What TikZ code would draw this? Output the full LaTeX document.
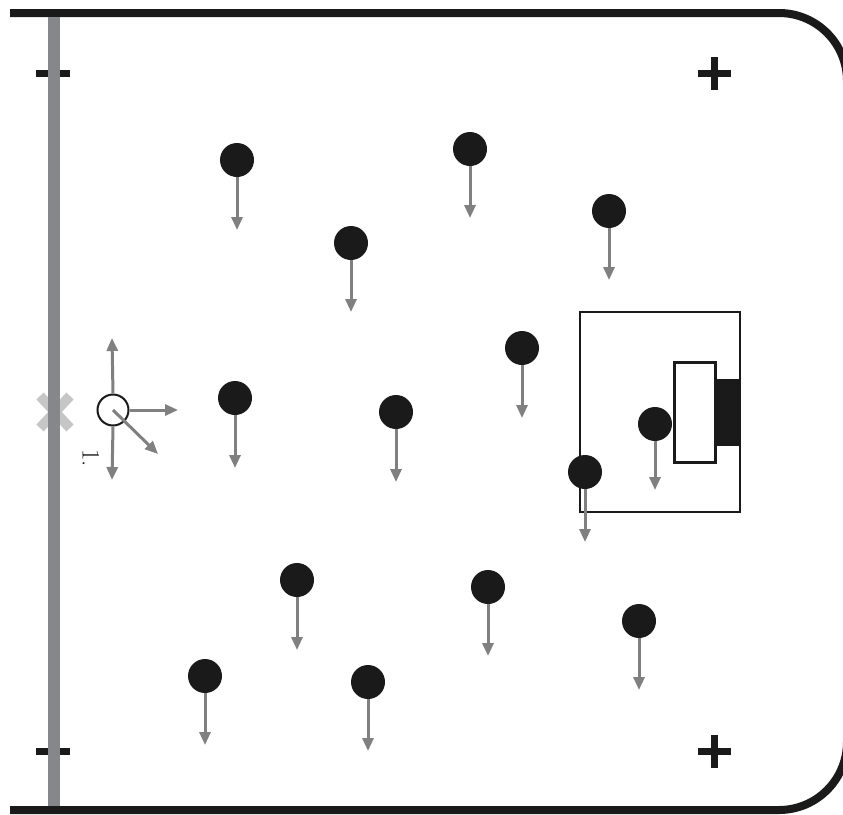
\documentclass[tikz,border=0pt]{standalone}
\usetikzlibrary{arrows.meta}
\definecolor{linegray}{HTML}{85878A}
\definecolor{arrgray}{HTML}{808080}
\definecolor{xgray}{HTML}{C6C6C6}
\definecolor{ink}{HTML}{1A1A1A}
\begin{document}
\begin{tikzpicture}[x=1pt,y=-1pt,
  player/.style={circle,fill=ink,minimum size=34pt,inner sep=0pt},
  runarrow/.style={draw=arrgray,line width=3pt,-{Triangle[width=11pt,length=13pt]}},
  border/.style={draw=ink,line width=8pt},
  tick/.style={draw=ink,line width=7pt},
  plus/.style={draw=ink,line width=7pt}]
\useasboundingbox (0,0) rectangle (843,814);
\fill[white] (0,0) rectangle (843,814);
% field border
\draw[border,rounded corners=68pt] (10,13) -- (847,13) -- (847,810) -- (10,810);
% gray X
\draw[xgray,line width=10pt] (40,396) -- (70,428) (40,428) -- (70,396);
% ticks on left line
\draw[tick] (36,73) -- (70,73);
\draw[tick] (36,751) -- (70,751);
% left gray line
\draw[linegray,line width=12pt] (54,17) -- (54,806);
% plus signs
\draw[plus] (698,73) -- (731,73) (714.5,57) -- (714.5,90);
\draw[plus] (698,751) -- (731,751) (714.5,735) -- (714.5,768);
% penalty area and goal
\draw[ink,line width=2.8pt] (580,312) rectangle (740,512);
\draw[ink,fill=white,line width=3pt] (674,362) rectangle (715,462);
\fill[ink] (716,379) rectangle (741,446);
% open circle with arrows
\node[circle,draw=ink,line width=2pt,minimum size=31pt,inner sep=0pt] (o) at (113,410) {};
\coordinate (oU) at (112,338);
\coordinate (oD) at (112,480);
\coordinate (oR) at (178,410);
\coordinate (oG) at (158,454);
\draw[runarrow] (o.north) -- (oU);
\draw[runarrow] (o.south) -- (oD);
\draw[runarrow] (o.east) -- (oR);
\draw[runarrow] (o.center) -- (oG);
\node[rotate=-90,font=\fontsize{25}{25}\selectfont,text=ink,inner sep=0pt] (lab) at (91,458) {1.};
% players
\foreach \n/\x/\y/\e in {a/237/160/230, b/470/149/218, c/609/211/280, d/351/243/312,
  e/522/348/418, f/235/398/468, g/396/412/482, h/655/424/490, i/585/472/542,
  j/297/580/650, k/488/587/656, l/639/621/690, m/205/676/745, n/368/682/751}{
  \node[player] (\n) at (\x,\y) {};
  \coordinate (\n e) at (\x,\e);
  \draw[runarrow] (\n.south) -- (\n e);
}
\end{tikzpicture}
\end{document}
